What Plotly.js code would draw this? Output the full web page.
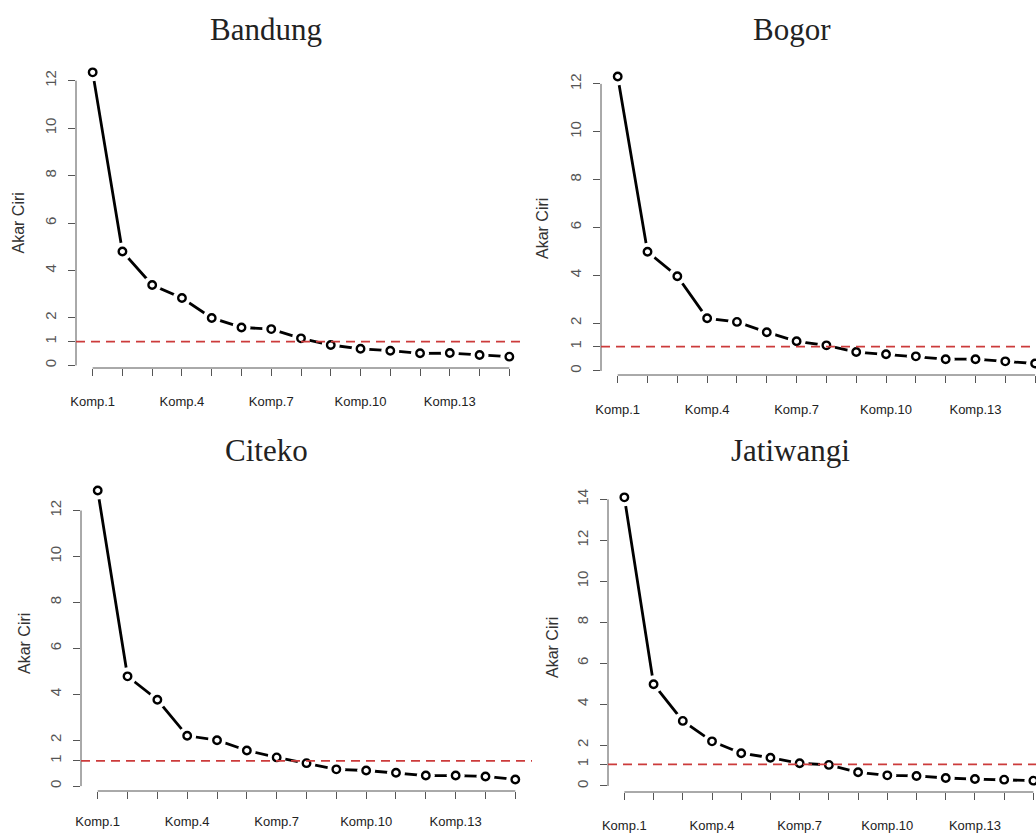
<!DOCTYPE html>
<html>
<head>
<meta charset="utf-8">
<script src="https://cdn.plot.ly/plotly-3.0.1.min.js"></script>
<style>html,body{margin:0;padding:0;background:#fff;overflow:hidden}#chart{width:1036px;height:833px}</style>
</head>
<body>
<div id="chart"></div>
<script>
// ---- data ----
const komponen = ['Komp.1','Komp.2','Komp.3','Komp.4','Komp.5','Komp.6','Komp.7','Komp.8','Komp.9','Komp.10','Komp.11','Komp.12','Komp.13','Komp.14','Komp.15'];
const shownLabels = ['Komp.1','Komp.4','Komp.7','Komp.10','Komp.13'];
const stations = ['Bandung','Bogor','Citeko','Jatiwangi'];
const bandung   = [12.35, 4.80, 3.39, 2.84, 2.00, 1.60, 1.53, 1.14, 0.86, 0.70, 0.62, 0.51, 0.52, 0.44, 0.37];
const bogor     = [12.31, 4.98, 3.96, 2.20, 2.05, 1.62, 1.24, 1.07, 0.79, 0.70, 0.61, 0.49, 0.49, 0.40, 0.31];
const citeko    = [12.87, 4.78, 3.76, 2.19, 2.00, 1.55, 1.25, 1.00, 0.73, 0.68, 0.58, 0.46, 0.46, 0.42, 0.29];
const jatiwangi = [14.10, 4.97, 3.18, 2.18, 1.60, 1.38, 1.11, 1.03, 0.67, 0.52, 0.49, 0.39, 0.34, 0.31, 0.26];
const thresholds = [1.00, 1.02, 1.10, 1.06];
const yTicks12 = [0, 2, 4, 6, 8, 10, 12];
const yTicks14 = [0, 2, 4, 6, 8, 10, 12, 14];
const yAxisTitle = 'Akar Ciri';

// ---- layout geometry (pixels) ----
const W = 1036, H = 833;
const series = [bandung, bogor, citeko, jatiwangi];
const tickSets = [yTicks12, yTicks12, yTicks12, yTicks14];
const geom = [
  {xd:[76,526],  xr:14.56, yd:[61,368],  tx:266, ty:29,  ax:18,  xs:14},
  {xd:[601,1036],xr:14.03, yd:[65,375],  tx:792, ty:29,  ax:543, xs:15},
  {xd:[81,532],  xr:14.56, yd:[479,791], tx:266, ty:451, ax:24,  xs:11},
  {xd:[608,1036],xr:14.09, yd:[486,792], tx:790, ty:451, ax:552, xs:14}
];

const sans = 'Liberation Sans, Arial, sans-serif';
const serif = 'Liberation Serif, Times New Roman, serif';
const axisGray = '#555555';
const red = '#cc3b3b';

const traces = [];
const layout = {
  width: W, height: H,
  margin: {l:0, r:0, t:0, b:0},
  paper_bgcolor: '#ffffff', plot_bgcolor: '#ffffff',
  showlegend: false,
  shapes: [], annotations: []
};

series.forEach((vals, i) => {
  const n = i === 0 ? '' : String(i + 1);
  const xa = 'x' + n, ya = 'y' + n;
  const g = geom[i];
  const mn = Math.min(...vals), mx = Math.max(...vals);
  const pad = 0.04 * (mx - mn);
  const ticks = tickSets[i];
  const tv = [ticks[0], thresholds[i]].concat(ticks.slice(1));
  const tt = tv.map((v, k) => k === 1 ? '1' : String(v));

  traces.push({x: komponen, y: vals, xaxis: xa, yaxis: ya, type: 'scatter', mode: 'lines',
    line: {color: '#000', width: 2.8}, hoverinfo: 'skip'});
  traces.push({x: komponen, y: vals, xaxis: xa, yaxis: ya, type: 'scatter', mode: 'markers',
    marker: {symbol: 'circle', size: 18, color: '#ffffff', line: {width: 0}}, hoverinfo: 'skip'});
  traces.push({x: komponen, y: vals, xaxis: xa, yaxis: ya, type: 'scatter', mode: 'markers',
    marker: {symbol: 'circle', size: 7.5, color: '#ffffff', line: {color: '#000', width: 2.4}}});

  layout['xaxis' + n] = {
    domain: [g.xd[0] / W, g.xd[1] / W], range: [-0.56, g.xr], type: 'category',
    anchor: ya, showgrid: false, zeroline: false, showline: false,
    tickmode: 'array', tickvals: komponen,
    ticktext: komponen.map(k => shownLabels.includes(k) ? k : ''),
    ticks: 'outside', ticklen: 7, tickwidth: 1, tickcolor: axisGray,
    ticklabelstandoff: g.xs,
    tickfont: {family: sans, size: 13, color: '#222'}, fixedrange: true
  };
  layout['yaxis' + n] = {
    domain: [(H - g.yd[1]) / H, (H - g.yd[0]) / H], range: [mn - pad, mx + pad],
    anchor: xa, showgrid: false, zeroline: false, showline: false,
    tickmode: 'array', tickvals: tv, ticktext: tt, tickangle: -90,
    ticks: 'outside', ticklen: 7, tickwidth: 1, tickcolor: axisGray,
    ticklabelstandoff: 6,
    tickfont: {family: sans, size: 15, color: '#555'}, fixedrange: true
  };
  // axis lines spanning ticks only (R style)
  layout.shapes.push({type: 'line', xref: xa, yref: ya + ' domain', x0: 0, x1: komponen.length - 1, y0: 0, y1: 0,
    line: {color: axisGray, width: 1}});
  layout.shapes.push({type: 'line', xref: xa + ' domain', yref: ya, x0: 0, x1: 0, y0: ticks[0], y1: ticks[ticks.length - 1],
    line: {color: axisGray, width: 1}});
  // reference line
  layout.shapes.push({type: 'line', xref: xa + ' domain', yref: ya, x0: 0, x1: 1, y0: thresholds[i], y1: thresholds[i],
    line: {color: red, width: 1.8, dash: '9px,6px'}, layer: 'above'});
  // titles
  layout.annotations.push({text: stations[i], xref: 'paper', yref: 'paper', x: g.tx / W, y: 1 - g.ty / H,
    xanchor: 'center', yanchor: 'middle', showarrow: false, font: {family: serif, size: 31, color: '#222'}});
  layout.annotations.push({text: yAxisTitle, xref: 'paper', yref: ya + ' domain', x: g.ax / W, y: 0.5, yshift: -9,
    xanchor: 'center', yanchor: 'middle', textangle: -90, showarrow: false, font: {family: sans, size: 16, color: '#333'}});
});

Plotly.newPlot('chart', traces, layout, {staticPlot: true, displayModeBar: false});
</script>
</body>
</html>
